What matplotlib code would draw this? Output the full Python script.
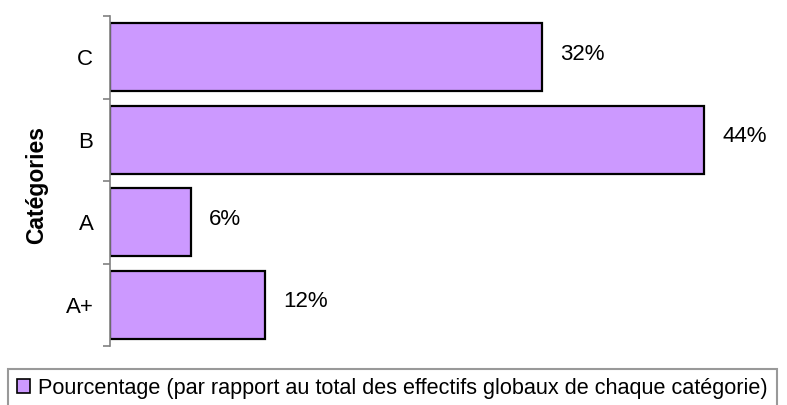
import matplotlib
matplotlib.use("Agg")
import matplotlib.pyplot as plt
from matplotlib.patches import Patch

categories = ["A+", "A", "B", "C"]
values = [11.5, 6.0, 44.0, 32.0]
labels = ["12%", "6%", "44%", "32%"]
series_name = "Pourcentage (par rapport au total des effectifs globaux de chaque catégorie)"

plt.rcParams['font.family'] = ['Liberation Sans', 'DejaVu Sans']

W, H = 787, 405
fig = plt.figure(figsize=(W / 100, H / 100), dpi=100)
ax = fig.add_axes([110 / W, 1 - 346 / H, 675 / W, 330 / H])

color = "#cc99ff"
ypos = list(range(len(categories)))
ax.barh(ypos, values, height=0.82, color=color, edgecolor="black", linewidth=1.6)

for y, v, lab in zip(ypos, values, labels):
    ax.annotate(lab, (v, y), xytext=(13, 2), textcoords="offset points",
                ha="left", va="center", fontsize=16)

ax.set_xlim(0, 50)
ax.set_ylim(-0.5, len(categories) - 0.5)
ax.set_yticks(ypos)
ax.set_yticklabels(categories, fontsize=16)
ax.set_yticks([i - 0.5 for i in range(len(categories) + 1)], minor=True)
ax.tick_params(axis="y", which="major", length=0, pad=12)
ax.tick_params(axis="y", which="minor", length=5, color="#808080", width=1.2)
ax.set_xticks([])
for s in ["top", "right", "bottom"]:
    ax.spines[s].set_visible(False)
ax.spines["left"].set_color("#808080")
ax.spines["left"].set_linewidth(1.2)

fig.text(37 / W, 1 - 185 / H, "Catégories", rotation=90, fontsize=16.5,
         fontweight="bold", ha="center", va="center")

handle = Patch(facecolor=color, edgecolor="black", linewidth=1.2)
leg = fig.legend([handle], [series_name], loc="upper left",
                 bbox_to_anchor=(8 / W, 1 - 369 / H), fontsize=15.6,
                 frameon=True, fancybox=False, borderaxespad=0,
                 handlelength=0.6, handleheight=0.6, handletextpad=0.4,
                 borderpad=0.4)
frame = leg.get_frame()
frame.set_edgecolor("#808080")
frame.set_linewidth(1.5)

fig.savefig("out.png", dpi=100)
